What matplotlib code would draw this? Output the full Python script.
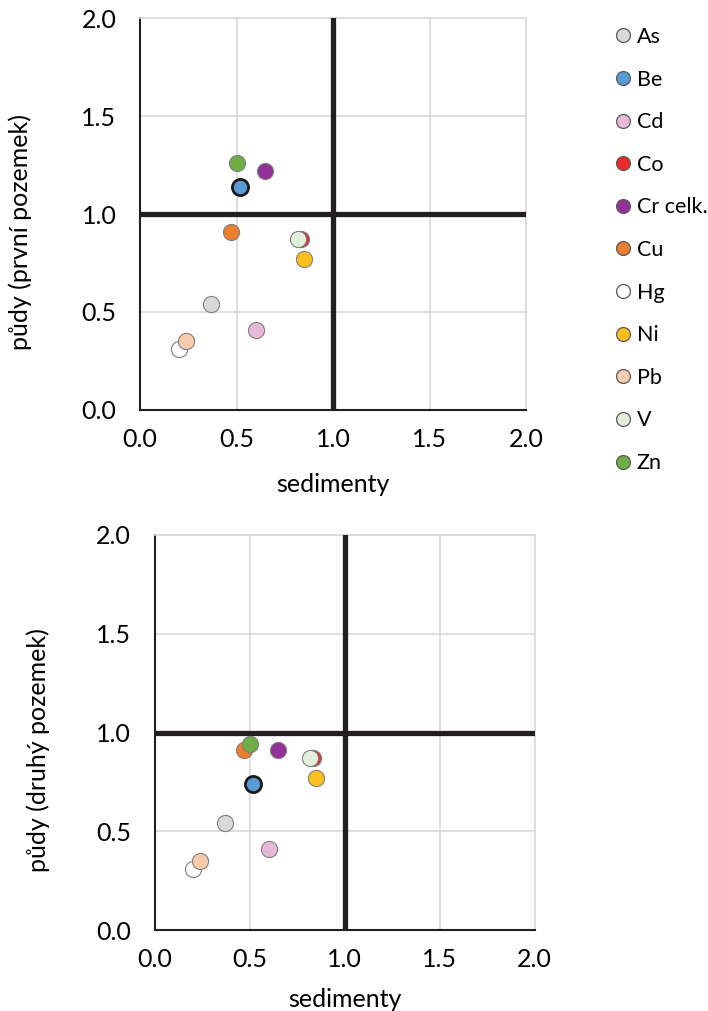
import matplotlib
matplotlib.use("Agg")
import matplotlib.pyplot as plt
from matplotlib.lines import Line2D

plt.rcParams['font.family'] = ['Lato', 'DejaVu Sans']

elements = ["As", "Be", "Cd", "Co", "Cr celk.", "Cu", "Hg", "Ni", "Pb", "V", "Zn"]
sedimenty = [0.37, 0.52, 0.60, 0.835, 0.65, 0.47, 0.20, 0.85, 0.24, 0.82, 0.50]
pudy_prvni = [0.54, 1.14, 0.41, 0.87, 1.22, 0.91, 0.31, 0.77, 0.35, 0.87, 1.26]
pudy_druhy = [0.54, 0.74, 0.41, 0.87, 0.91, 0.91, 0.31, 0.77, 0.35, 0.87, 0.94]
colors = ["#d9d9d9", "#5b9bd5", "#e6b9d8", "#ee2a2a", "#943198", "#ed7d31",
          "#ffffff", "#fbbf1f", "#f8cbad", "#e2efda", "#70ad47"]
ticks = [0.0, 0.5, 1.0, 1.5, 2.0]
tick_labels = ["0.0", "0.5", "1.0", "1.5", "2.0"]

FS = 18
LFS = 15.5

fig = plt.figure(figsize=(7.08, 10.11), dpi=100)
ax1 = fig.add_axes([140/708, 1 - 410/1011, 386/708, 392/1011])
ax2 = fig.add_axes([154.5/708, 1 - 930/1011, 380/708, 395/1011])

def draw(ax, ys, ylabel, ylab_xy, xlab_y):
    for i, el in enumerate(elements):
        edge = "#1a1a1a" if el == "Be" else "#7f7f7f"
        lw = 2.0 if el == "Be" else 0.8
        ax.scatter(sedimenty[i], ys[i], s=135, c=colors[i], edgecolors=edge,
                   linewidths=lw, zorder=5 + i)
    ax.set_xlim(0, 2)
    ax.set_ylim(0, 2)
    ax.set_xticks(ticks)
    ax.set_xticklabels(tick_labels)
    ax.set_yticks(ticks)
    ax.set_yticklabels(tick_labels)
    ax.grid(True, color="#d9d9d9", linewidth=1.2, zorder=0)
    ax.set_axisbelow(True)
    ax.tick_params(axis="x", length=0, labelsize=FS, colors="#000000", pad=13)
    ax.tick_params(axis="y", length=0, labelsize=FS, colors="#000000", pad=17)
    for side in ["top", "right"]:
        ax.spines[side].set_color("#d9d9d9")
        ax.spines[side].set_linewidth(1.2)
    for side in ["left", "bottom"]:
        ax.spines[side].set_color("#231f20")
        ax.spines[side].set_linewidth(1.5)
    ax.axvline(1.0, color="#231f20", linewidth=3.8, zorder=3)
    ax.axhline(1.0, color="#231f20", linewidth=3.8, zorder=3)
    ax.set_xlabel("sedimenty", fontsize=FS)
    ax.set_ylabel(ylabel, fontsize=FS)
    ax.xaxis.set_label_coords(0.5, xlab_y)
    ax.yaxis.set_label_coords(*ylab_xy)
    ax.xaxis.label.set_va("center")
    ax.yaxis.label.set_va("center")

draw(ax1, pudy_prvni, "půdy (první pozemek)", (-0.311, 0.454), -0.191)
draw(ax2, pudy_druhy, "půdy (druhý pozemek)", (-0.307, 0.456), -0.177)

handles = []
for i, el in enumerate(elements):
    handles.append(Line2D([], [], linestyle="none", marker="o", markersize=10,
                          markerfacecolor=colors[i], markeredgecolor="#595959",
                          markeredgewidth=0.9, label=el))
fig.legend(handles=handles, loc="upper left", bbox_to_anchor=(612/708, 1 - 27/1011),
           frameon=False, fontsize=LFS, labelspacing=1.05, handletextpad=0.15,
           handlelength=1.0, borderaxespad=0, borderpad=0)

fig.savefig("out.png", dpi=100)
